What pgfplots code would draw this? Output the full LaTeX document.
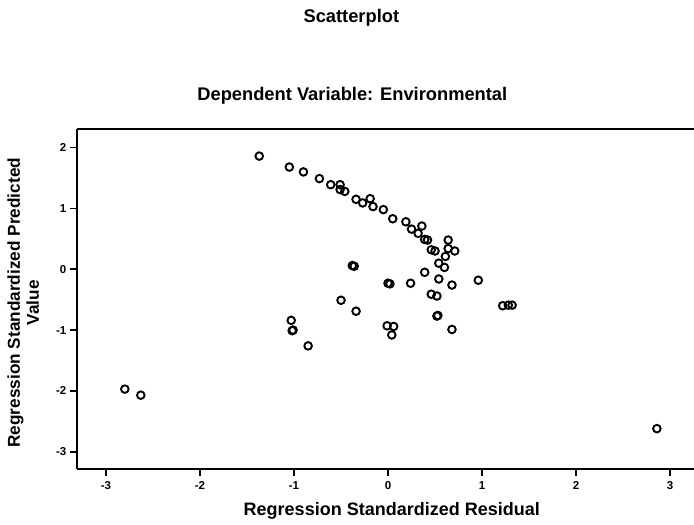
\documentclass[border=0pt]{standalone}
\usepackage{pgfplots}
\pgfplotsset{compat=1.18}
\usepackage{fontspec}
\setmainfont{Liberation Sans}

\begin{document}
\begin{tikzpicture}
\begin{axis}[
  scale only axis,
  width=617pt, height=340pt,
  xmin=-3.31, xmax=3.255,
  ymin=-3.29, ymax=2.30,
  axis x line*=box,
  axis y line*=left,
  xtick={-3,-2,-1,0,1,2,3},
  ytick={-3,-2,-1,0,1,2},
  xtick pos=bottom, ytick pos=left,
  tick align=outside,
  major tick length=7pt,
  every tick/.style={black, line width=1.8pt},
  axis line style={black, line width=1.8pt},
  /pgf/number format/assume math mode=true,
  ticklabel style={font=\fontsize{11.5}{12}\selectfont\bfseries},
  xticklabel style={yshift=-2pt},
  clip=false,
]
\addplot[only marks, mark=o, mark size=3.8pt, mark options={line width=1.9pt, black}] coordinates {
(-1.37,1.86) (-1.05,1.68) (-0.90,1.60) (-0.73,1.49) (-0.61,1.39) (-0.51,1.39)
(-0.51,1.31) (-0.46,1.28) (-0.34,1.15) (-0.27,1.09) (-0.19,1.16) (-0.16,1.03)
(-0.05,0.98) (0.05,0.83) (0.19,0.78) (0.25,0.66) (0.36,0.71) (0.32,0.59)
(0.39,0.49) (0.42,0.48) (0.64,0.48) (0.46,0.32) (0.50,0.30) (0.64,0.34)
(0.71,0.30) (0.61,0.21) (0.54,0.10) (0.60,0.03) (-0.38,0.06) (-0.36,0.05)
(0.39,-0.05) (0.00,-0.23) (0.02,-0.24) (0.24,-0.23) (0.54,-0.16) (0.68,-0.26)
(0.96,-0.18) (-0.50,-0.51) (-0.34,-0.69) (0.46,-0.41) (0.52,-0.44)
(1.22,-0.60) (1.28,-0.59) (1.32,-0.59) (0.52,-0.77) (0.53,-0.76)
(-0.01,-0.93) (0.06,-0.94) (0.04,-1.08) (0.68,-0.99) (-0.85,-1.26)
(-1.03,-0.84) (-1.02,-1.01) (-1.01,-1.00) (-2.80,-1.97) (-2.63,-2.07) (2.86,-2.62)
};
\node[font=\fontsize{18.3}{20}\selectfont\bfseries] at (axis cs:-0.39,4.14) {Scatterplot};
\node[font=\fontsize{18.3}{20}\selectfont\bfseries] at (axis cs:-0.38,2.85) {Dependent Variable: Environmental};
\node[font=\fontsize{18}{20}\selectfont\bfseries] at (axis cs:0.04,-3.97) {Regression Standardized Residual};
\node[font=\fontsize{17.2}{19}\selectfont\bfseries, rotate=90, align=center] at (axis cs:-3.88,-0.55) {Regression Standardized Predicted\\Value};
\coordinate (bl) at (axis cs:-4.128,-4.197);
\coordinate (tr) at (axis cs:3.255,4.426);
\end{axis}
\pgfresetboundingbox
\path[use as bounding box] (bl) rectangle (tr);
\end{tikzpicture}
\end{document}
